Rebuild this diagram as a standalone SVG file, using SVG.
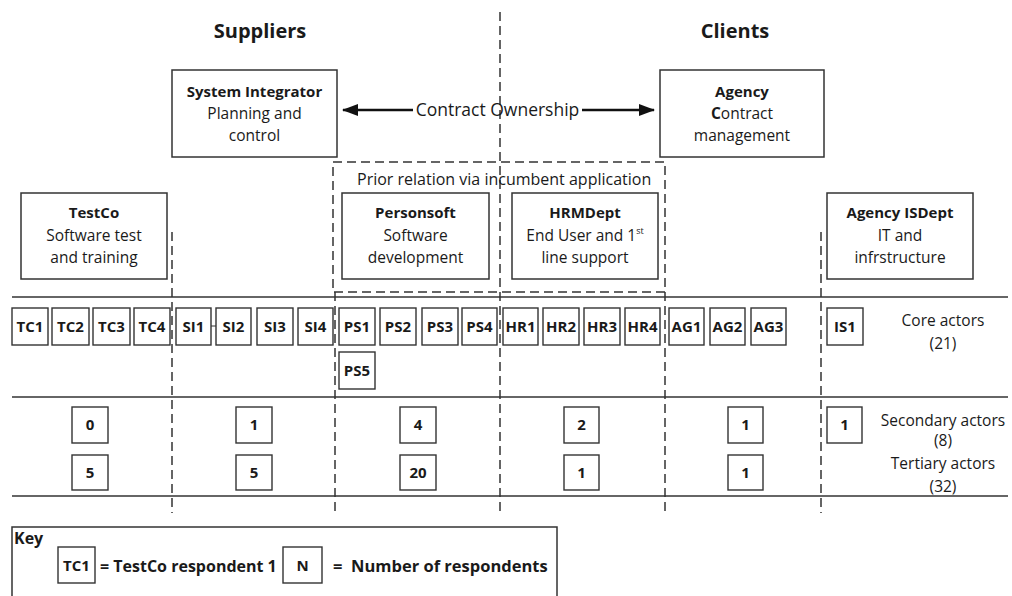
<svg xmlns="http://www.w3.org/2000/svg" width="1012" height="596" viewBox="0 0 1012 596">
<style>
text{font-family:"Open Sans","Liberation Sans",sans-serif;fill:#1a1a1a;}
.t{font-size:20px;font-weight:bold;text-anchor:middle;}
.b{font-size:15px;font-weight:bold;text-anchor:middle;}
.r{font-size:15.5px;text-anchor:middle;}
.lbl{font-size:15.5px;text-anchor:middle;}
.box{fill:#fff;stroke:#333;stroke-width:1.5;}
.sb{fill:#fff;stroke:#333;stroke-width:1.4;}
.dash{fill:none;stroke:#333;stroke-width:1.5;stroke-dasharray:9 5;}
.hl{stroke:#333;stroke-width:1.5;}
.sym{font-size:15px;font-weight:bold;text-anchor:middle;}
</style>
<defs>
<marker id="ah" viewBox="0 0 16 12" refX="15" refY="6" markerWidth="16" markerHeight="12" markerUnits="userSpaceOnUse" orient="auto-start-reverse">
<path d="M0,0 L16,6 L0,12 Z" fill="#111"/>
</marker>
</defs>
<rect width="1012" height="596" fill="#fff"/>

<g id="headings">
<text class="t" x="260" y="38">Suppliers</text>
<text class="t" x="735" y="38">Clients</text>
</g>

<g id="lines">
<line class="hl" x1="12" y1="297" x2="1008" y2="297"/>
<line class="hl" x1="12" y1="397" x2="1008" y2="397"/>
<line class="hl" x1="12" y1="496" x2="1008" y2="496"/>
<line class="dash" x1="500" y1="12" x2="500" y2="513"/>
<line class="dash" x1="172" y1="232" x2="172" y2="513"/>
<line class="dash" x1="335" y1="292" x2="335" y2="513"/>
<line class="dash" x1="665" y1="292" x2="665" y2="513"/>
<line class="dash" x1="821" y1="232" x2="821" y2="513"/>
</g>

<g id="prior-relation">
<rect class="dash" x="333" y="162" width="332" height="130"/>
<text style="font-size:16px" x="357" y="185">Prior relation via incumbent application</text>
</g>

<g id="system-integrator">
<rect class="box" x="172" y="70" width="165" height="87"/>
<text class="b" x="254.5" y="97">System Integrator</text>
<text class="r" x="254.5" y="119">Planning and</text>
<text class="r" x="254.5" y="141">control</text>
</g>

<g id="agency">
<rect class="box" x="660" y="70" width="164" height="87"/>
<text class="b" x="742" y="97">Agency</text>
<text class="r" x="742" y="119"><tspan font-weight="bold">C</tspan>ontract</text>
<text class="r" x="742" y="141">management</text>
</g>

<g id="connectors">
<line x1="413" y1="110" x2="343" y2="110" stroke="#111" stroke-width="2.5" marker-end="url(#ah)"/>
<line x1="582" y1="110" x2="654" y2="110" stroke="#111" stroke-width="2.5" marker-end="url(#ah)"/>
<text x="497.5" y="116" style="font-size:17.5px;text-anchor:middle">Contract Ownership</text>
<line x1="211" y1="326" x2="216" y2="326" stroke="#333" stroke-width="1"/>
</g>

<g id="testco">
<rect class="box" x="21" y="193" width="146" height="86"/>
<text class="b" x="94" y="218">TestCo</text>
<text class="r" x="94" y="241">Software test</text>
<text class="r" x="94" y="263">and training</text>
</g>

<g id="personsoft">
<rect class="box" x="342" y="193" width="147" height="86"/>
<text class="b" x="415.5" y="218">Personsoft</text>
<text class="r" x="415.5" y="241">Software</text>
<text class="r" x="415.5" y="263">development</text>
</g>

<g id="hrmdept">
<rect class="box" x="512" y="193" width="146" height="86"/>
<text class="b" x="585" y="218">HRMDept</text>
<text class="r" x="585" y="241">End User and 1<tspan font-size="9" dy="-7">st</tspan></text>
<text class="r" x="585" y="263">line support</text>
</g>

<g id="agency-isdept">
<rect class="box" x="827" y="193" width="146" height="86"/>
<text class="b" x="900" y="218">Agency ISDept</text>
<text class="r" x="900" y="241">IT and</text>
<text class="r" x="900" y="263">infrstructure</text>
</g>

<g id="core-actors">
<g id="TC1"><rect class="sb" x="12" y="308" width="36" height="37"/><text class="sym" x="30" y="332">TC1</text></g>
<g id="TC2"><rect class="sb" x="52" y="308" width="37" height="37"/><text class="sym" x="70.5" y="332">TC2</text></g>
<g id="TC3"><rect class="sb" x="93" y="308" width="37" height="37"/><text class="sym" x="111.5" y="332">TC3</text></g>
<g id="TC4"><rect class="sb" x="134" y="308" width="36" height="37"/><text class="sym" x="152" y="332">TC4</text></g>
<g id="SI1"><rect class="sb" x="176" y="308" width="35" height="37"/><text class="sym" x="193.5" y="332">SI1</text></g>
<g id="SI2"><rect class="sb" x="216" y="308" width="35" height="37"/><text class="sym" x="233.5" y="332">SI2</text></g>
<g id="SI3"><rect class="sb" x="257" y="308" width="36" height="37"/><text class="sym" x="275" y="332">SI3</text></g>
<g id="SI4"><rect class="sb" x="298" y="308" width="35" height="37"/><text class="sym" x="315.5" y="332">SI4</text></g>
<g id="PS1"><rect class="sb" x="339" y="308" width="36" height="37"/><text class="sym" x="357" y="332">PS1</text></g>
<g id="PS2"><rect class="sb" x="380" y="308" width="36" height="37"/><text class="sym" x="398" y="332">PS2</text></g>
<g id="PS3"><rect class="sb" x="422" y="308" width="36" height="37"/><text class="sym" x="440" y="332">PS3</text></g>
<g id="PS4"><rect class="sb" x="462" y="308" width="35" height="37"/><text class="sym" x="479.5" y="332">PS4</text></g>
<g id="HR1"><rect class="sb" x="503" y="308" width="35" height="37"/><text class="sym" x="520.5" y="332">HR1</text></g>
<g id="HR2"><rect class="sb" x="543" y="308" width="36" height="37"/><text class="sym" x="561" y="332">HR2</text></g>
<g id="HR3"><rect class="sb" x="584" y="308" width="36" height="37"/><text class="sym" x="602" y="332">HR3</text></g>
<g id="HR4"><rect class="sb" x="625" y="308" width="35" height="37"/><text class="sym" x="642.5" y="332">HR4</text></g>
<g id="AG1"><rect class="sb" x="669" y="308" width="35" height="37"/><text class="sym" x="686.5" y="332">AG1</text></g>
<g id="AG2"><rect class="sb" x="710" y="308" width="35" height="37"/><text class="sym" x="727.5" y="332">AG2</text></g>
<g id="AG3"><rect class="sb" x="751" y="308" width="35" height="37"/><text class="sym" x="768.5" y="332">AG3</text></g>
<g id="IS1"><rect class="sb" x="827" y="308" width="36" height="37"/><text class="sym" x="845" y="332">IS1</text></g>
<g id="PS5"><rect class="sb" x="339" y="352" width="36" height="37"/><text class="sym" x="357" y="376">PS5</text></g>
</g>

<g id="secondary-actors">
<g><rect class="sb" x="72" y="407" width="36" height="36"/><text class="sym" x="90" y="430">0</text></g>
<g><rect class="sb" x="236" y="407" width="36" height="36"/><text class="sym" x="254" y="430">1</text></g>
<g><rect class="sb" x="400" y="407" width="36" height="36"/><text class="sym" x="418" y="430">4</text></g>
<g><rect class="sb" x="564" y="407" width="35" height="36"/><text class="sym" x="581.5" y="430">2</text></g>
<g><rect class="sb" x="728" y="407" width="35" height="36"/><text class="sym" x="745.5" y="430">1</text></g>
<g><rect class="sb" x="827" y="407" width="35" height="36"/><text class="sym" x="844.5" y="430">1</text></g>
</g>

<g id="tertiary-actors">
<g><rect class="sb" x="72" y="455" width="36" height="35"/><text class="sym" x="90" y="478">5</text></g>
<g><rect class="sb" x="236" y="455" width="36" height="35"/><text class="sym" x="254" y="478">5</text></g>
<g><rect class="sb" x="400" y="455" width="36" height="35"/><text class="sym" x="418" y="478">20</text></g>
<g><rect class="sb" x="564" y="455" width="35" height="35"/><text class="sym" x="581.5" y="478">1</text></g>
<g><rect class="sb" x="728" y="455" width="35" height="35"/><text class="sym" x="745.5" y="478">1</text></g>
</g>

<g id="row-labels">
<text class="lbl" x="943" y="326">Core actors</text>
<text class="lbl" x="943" y="349">(21)</text>
<text class="lbl" x="943" y="426">Secondary actors</text>
<text class="lbl" x="943" y="446">(8)</text>
<text class="lbl" x="943" y="469">Tertiary actors</text>
<text class="lbl" x="943" y="492">(32)</text>
</g>

<g id="key">
<rect class="box" x="12" y="527" width="545" height="90"/>
<text x="14" y="544" style="font-size:16px;font-weight:bold">Key</text>
<rect class="sb" x="58" y="547" width="37" height="36"/>
<text class="sym" x="76.5" y="571">TC1</text>
<text x="100" y="572" style="font-size:16px;font-weight:bold">= TestCo respondent 1</text>
<rect class="sb" x="283" y="547" width="39" height="36"/>
<text class="sym" x="302.5" y="571">N</text>
<text x="333" y="572" style="font-size:16.5px;font-weight:bold;white-space:pre" xml:space="preserve">=  Number of respondents</text>
</g>
</svg>
